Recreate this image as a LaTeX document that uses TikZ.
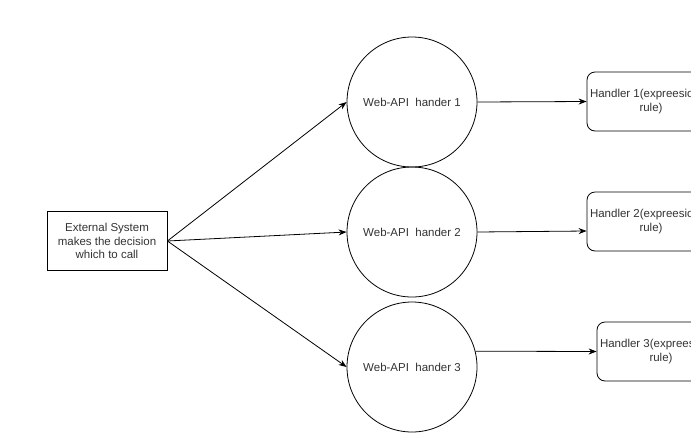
\documentclass[tikz,border=0pt]{standalone}
\usepackage{fontspec}
\setmainfont{Liberation Sans}
\usetikzlibrary{arrows.meta}
\begin{document}
\begin{tikzpicture}[x=1pt,y=-1pt,
  line width=0.8pt,
  every node/.style={font=\fontsize{11.5}{13.5}\selectfont, text=black!80},
  sysbox/.style={draw, minimum width=120pt, minimum height=59pt, align=center, inner sep=2pt},
  apicircle/.style={draw, circle, minimum size=130pt, inner sep=0pt},
  handlerbox/.style={draw, rounded corners=8pt, minimum width=128pt, minimum height=59pt, align=center, inner sep=2pt},
  conn/.style={-{Stealth[length=8pt,width=6pt]}}]
\useasboundingbox (0,0) rectangle (691,432);
\clip (0,0) rectangle (691,432);
\node[sysbox] (ext) at (107,241) {External System\\makes the decision\\which to call};
\node[apicircle] (c1) at (412,102) {Web-API\ \ hander 1};
\node[apicircle] (c2) at (412,232) {Web-API\ \ hander 2};
\node[apicircle] (c3) at (412,367) {Web-API\ \ hander 3};
\node[handlerbox] (h1) at (651,101.5) {Handler 1(expreesion\rule{12pt}{0pt}\\rule)};
\node[handlerbox] (h2) at (651,221.5) {Handler 2(expreesion\rule{12pt}{0pt}\\rule)};
\node[handlerbox] (h3) at (661,351.5) {Handler 3(expreesion\rule{12pt}{0pt}\\rule)};
\draw[conn] (ext.east) -- (c1.west);
\draw[conn] (ext.east) -- (c2.west);
\draw[conn] (ext.east) -- (c3.west);
\draw[conn] (c1.east) -- (h1.west);
\draw[conn] (c2.east) -- ([yshift=-9.5pt]h2.west);
\draw[conn] (c3.14) -- (h3.west);
\end{tikzpicture}
\end{document}
